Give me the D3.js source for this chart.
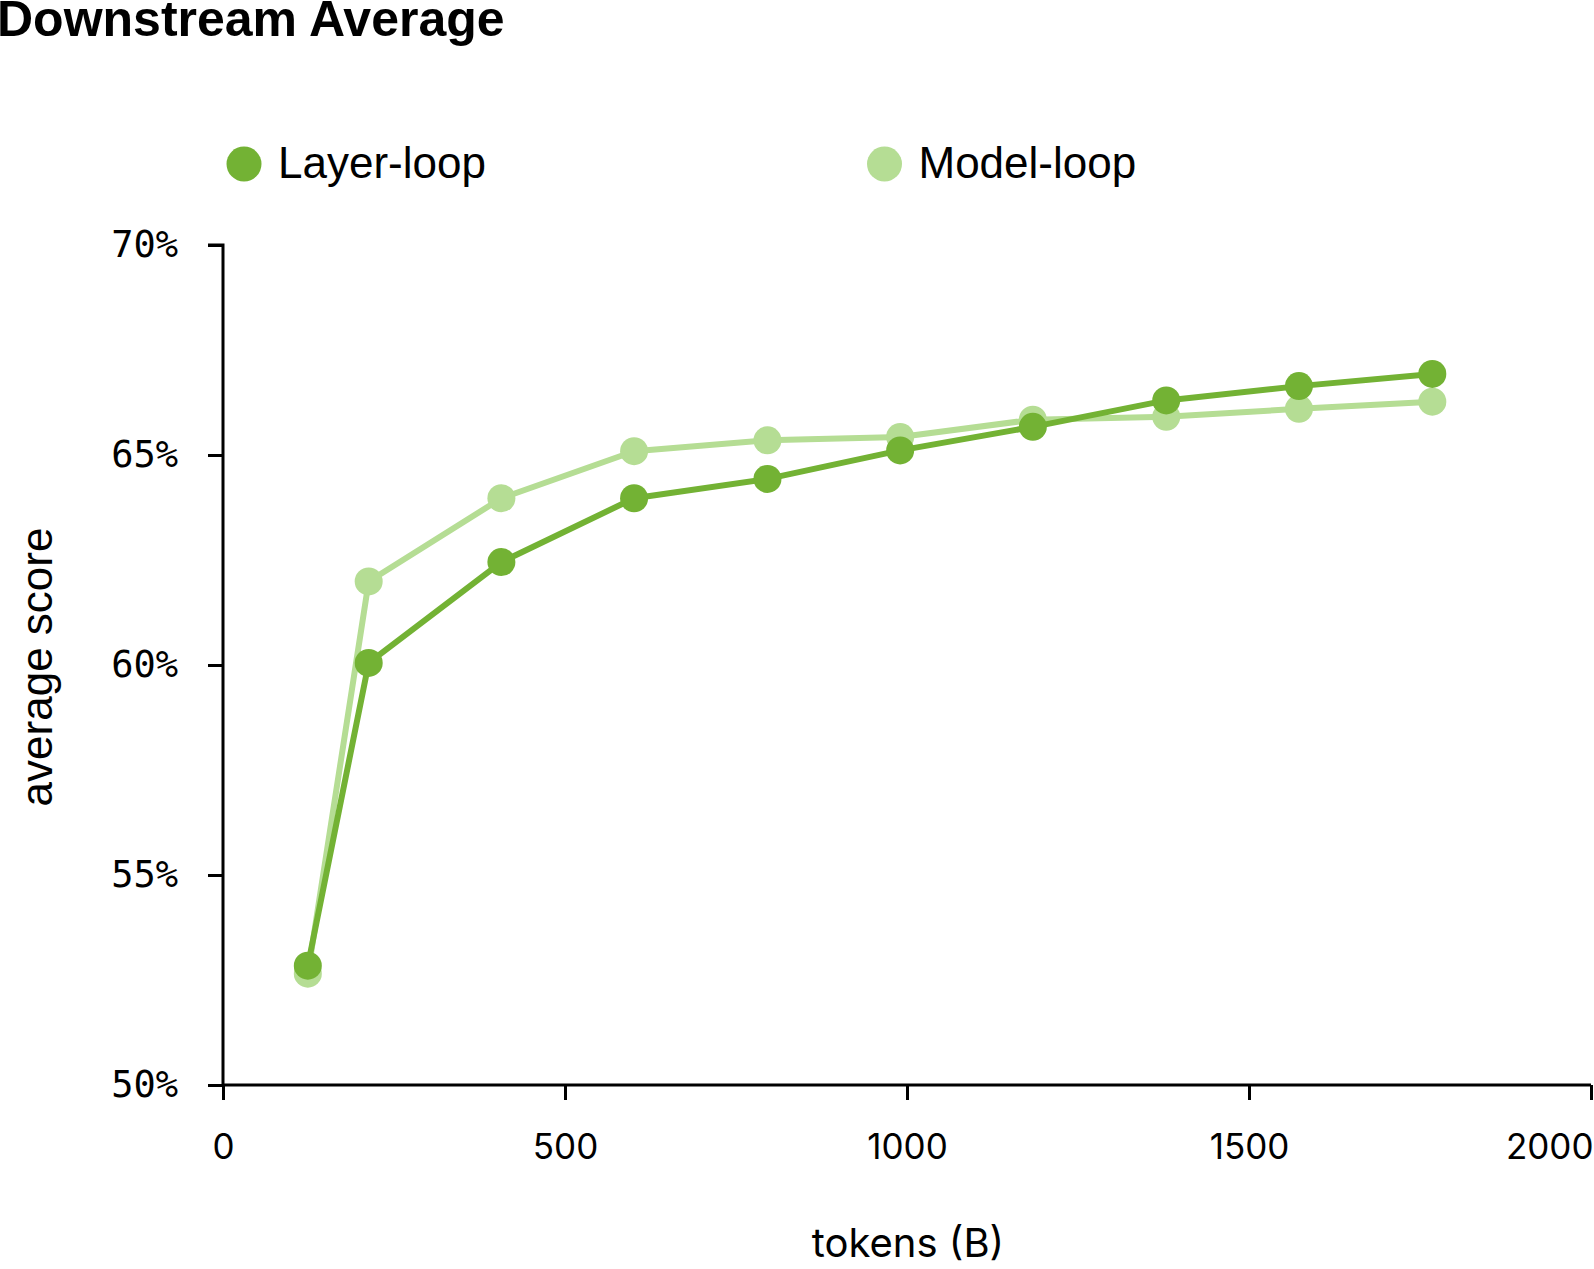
<!DOCTYPE html>
<html>
<head>
<meta charset="utf-8">
<script src="https://cdn.jsdelivr.net/npm/d3@7"></script>
<style>
  body { margin: 0; background: #fff; }
  svg { display: block; }
</style>
</head>
<body>
<div id="chart"></div>
<script>
// tokens seen (billions) at each checkpoint
const tokens = [124, 213, 407, 601, 796, 990, 1184, 1379, 1573, 1768];
// average downstream score (%)
const layerLoop = [52.84, 60.05, 62.45, 63.97, 64.43, 65.11, 65.67, 66.30, 66.64, 66.93];
const modelLoop = [52.65, 61.99, 63.97, 65.09, 65.35, 65.43, 65.84, 65.91, 66.10, 66.27];
const seriesNames = ["Layer-loop", "Model-loop"];
const xTicks = [0, 500, 1000, 1500, 2000];
const yTicks = [50, 55, 60, 65, 70];

const width = 1594, height = 1269;
const colors = {"Layer-loop": "#73b234", "Model-loop": "#b5dd94"};

const series = [
    {name: "Model-loop", values: modelLoop},
    {name: "Layer-loop", values: layerLoop}
];

const svg = d3.select("#chart").append("svg")
    .attr("width", width)
    .attr("height", height);

const x = d3.scaleLinear().domain([0, 2000]).range([223, 1591]);
const y = d3.scaleLinear().domain([50, 70]).range([1085, 245]);

// Title
svg.append("text")
    .attr("x", -3)
    .attr("y", 36)
    .attr("font-family", "'Liberation Sans', Arial, sans-serif")
    .attr("font-weight", "bold")
    .attr("font-size", 50)
    .text("Downstream Average");

// Legend
const legend = svg.append("g")
    .attr("font-family", "'Liberation Sans', Arial, sans-serif")
    .attr("font-size", 44);
const legendX = [244, 884.5];
seriesNames.forEach((name, i) => {
    legend.append("circle")
        .attr("cx", legendX[i])
        .attr("cy", 164)
        .attr("r", 17.5)
        .attr("fill", colors[name]);
    legend.append("text")
        .attr("x", legendX[i] + 34)
        .attr("y", 178)
        .text(name);
});

// Y axis
const yAxis = svg.append("g")
    .attr("transform", "translate(223,0)")
    .call(d3.axisLeft(y).tickValues(yTicks).tickSize(15).tickPadding(30)
        .tickFormat(d => d + "%"));
yAxis.selectAll("path, line").attr("stroke", "#000").attr("stroke-width", 3);
yAxis.select(".domain").attr("d", `M-15,${y(70)}H0V${y(50)}`);
yAxis.selectAll("text")
    .attr("font-family", "'DejaVu Sans Mono', monospace")
    .attr("font-size", 37)
    .attr("fill", "#000")
    .attr("dy", "0.3em");

// X axis
const xAxis = svg.append("g")
    .attr("transform", `translate(0,${y(50)})`)
    .call(d3.axisBottom(x).tickValues(xTicks).tickSize(15).tickPadding(34)
        .tickFormat(d3.format("d")));
xAxis.selectAll("path, line").attr("stroke", "#000").attr("stroke-width", 3);
xAxis.select(".domain").attr("d", `M${x(0)},0H${x(2000)}`);
xAxis.selectAll("text")
    .attr("font-family", "Inter, sans-serif")
    .attr("font-size", 35)
    .attr("fill", "#000")
    .attr("text-anchor", d => d === 2000 ? "end" : "middle")
    .attr("x", d => d === 2000 ? 2 : 0);

// Axis titles
svg.append("text")
    .attr("x", 908)
    .attr("y", 1257)
    .attr("text-anchor", "middle")
    .attr("font-family", "Inter, sans-serif")
    .attr("font-size", 40)
    .text("tokens (B)");

svg.append("text")
    .attr("transform", "translate(52,667) rotate(-90)")
    .attr("text-anchor", "middle")
    .attr("font-family", "'Liberation Sans', Arial, sans-serif")
    .attr("font-size", 44)
    .text("average score");

// Lines and points
const line = d3.line()
    .x((d, i) => x(tokens[i]))
    .y(d => y(d));

const groups = svg.selectAll(".series")
    .data(series)
    .join("g")
    .attr("class", "series");

groups.append("path")
    .attr("fill", "none")
    .attr("stroke", d => colors[d.name])
    .attr("stroke-width", 6)
    .attr("stroke-linejoin", "round")
    .attr("d", d => line(d.values));

groups.selectAll("circle")
    .data(d => d.values.map((v, i) => ({name: d.name, t: tokens[i], v: v})))
    .join("circle")
    .attr("cx", d => x(d.t))
    .attr("cy", d => y(d.v))
    .attr("r", 14)
    .attr("fill", d => colors[d.name]);
</script>
</body>
</html>
